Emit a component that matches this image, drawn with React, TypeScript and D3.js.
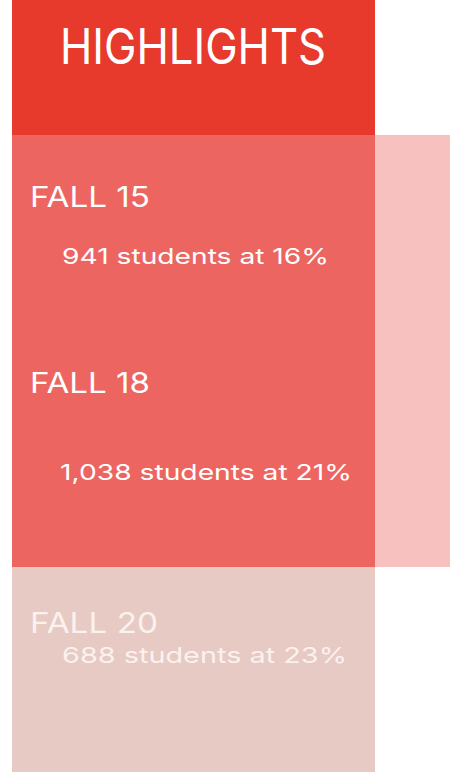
import { useEffect, useRef } from 'react';
import * as d3 from 'd3';

const title = 'HIGHLIGHTS';
const terms = ['FALL 15', 'FALL 18', 'FALL 20'];
const students = [941, 1038, 688];
const shares = [16, 21, 23];

const W = 450;
const H = 772;

const App = () => {
  const ref = useRef<SVGSVGElement>(null);

  useEffect(() => {
    const svg = d3.select(ref.current);
    svg.selectAll('*').remove();

    const font = "Inter, 'Open Sans', sans-serif";
    const left = 12;
    const right = 375;

    // background blocks
    svg.append('rect').attr('x', 0).attr('y', 0).attr('width', W).attr('height', H).attr('fill', '#ffffff');
    svg.append('rect').attr('x', left).attr('y', 0).attr('width', right - left).attr('height', 135).attr('fill', '#E8392D');
    svg.append('rect').attr('x', left).attr('y', 135).attr('width', right - left).attr('height', 432).attr('fill', '#EC6560');
    svg.append('rect').attr('x', right).attr('y', 135).attr('width', W - right).attr('height', 432).attr('fill', '#F7C1BF');
    svg.append('rect').attr('x', left).attr('y', 567).attr('width', right - left).attr('height', H - 567).attr('fill', '#E6CAC3');

    svg.append('text')
      .attr('x', 60)
      .attr('y', 64)
      .attr('textLength', 266)
      .attr('lengthAdjust', 'spacingAndGlyphs')
      .style('font-family', font)
      .style('font-size', '49px')
      .style('font-weight', 400)
      .attr('fill', '#ffffff')
      .text(title);

    const headY = [207, 393, 633];
    const subY = [264, 480, 663];
    const subX = [62, 60, 62];
    const subW = [267, 292, 285];
    const headW = [120, 120, 128];
    const fmt = d3.format(',');

    terms.forEach((t, i) => {
      const col = i === 2 ? '#FBF1EF' : '#ffffff';
      svg.append('text')
        .attr('x', 30)
        .attr('y', headY[i])
        .attr('textLength', headW[i])
        .attr('lengthAdjust', 'spacingAndGlyphs')
        .style('font-family', font)
        .style('font-size', '28px')
        .style('font-weight', 400)
        .attr('fill', col)
        .text(t);
      svg.append('text')
        .attr('x', subX[i])
        .attr('y', subY[i])
        .attr('textLength', subW[i])
        .attr('lengthAdjust', 'spacingAndGlyphs')
        .style('font-family', font)
        .style('font-size', '22px')
        .style('font-weight', 400)
        .attr('fill', col)
        .text(`${fmt(students[i])} students at ${shares[i]}%`);
    });
  }, []);

  return (
    <svg
      ref={ref}
      width={W}
      height={H}
      style={{ position: 'absolute', left: 0, top: 0, display: 'block' }}
    />
  );
};

export default App;
